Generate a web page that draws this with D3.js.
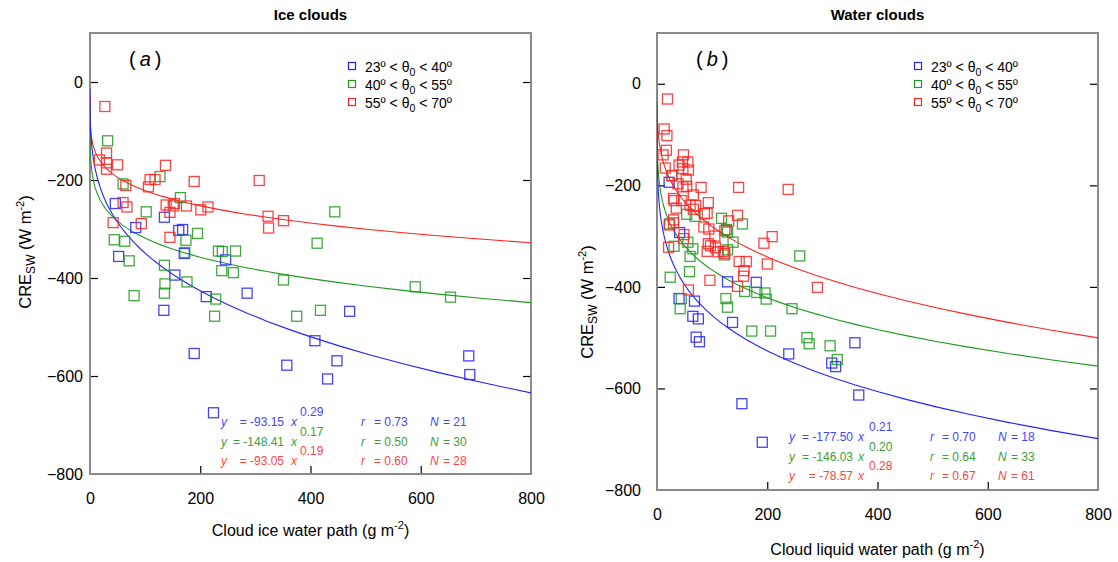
<!DOCTYPE html>
<html>
<head>
<meta charset="utf-8">
<script src="https://cdn.jsdelivr.net/npm/d3@7"></script>
<style>
  body { margin: 0; background: #fff; }
  svg text { font-family: Arial, "Liberation Sans", sans-serif; }
</style>
</head>
<body>
<svg id="mainsvg" width="1118" height="562"></svg>
<script>
// ---- data ----
const xTicks = [0, 200, 400, 600, 800];
const yTicks = [0, -200, -400, -600, -800];
const legendLabels = [['23º < θ', '0', ' < 40º'], ['40º < θ', '0', ' < 55º'], ['55º < θ', '0', ' < 70º']];
const seriesColors = ['#2222ff', '#1f9a1f', '#ff2222'];
const textColors = ['#4444ff', '#3aa03a', '#ff4444'];

// ice clouds: [IWP, CRE]
const iceBlue = [[46,-248],[83,-297],[135,-276],[161,-303],[168,-301],[52,-356],[246,-363],[154,-394],[171,-350],[134,-466],[211,-438],[285,-431],[471,-468],[408,-528],[189,-554],[357,-578],[448,-569],[431,-606],[687,-559],[689,-597],[224,-675]];
const iceGreen = [[32,-120],[127,-193],[60,-208],[164,-236],[102,-265],[444,-265],[195,-309],[174,-323],[44,-322],[63,-325],[412,-329],[233,-345],[240,-346],[264,-345],[172,-348],[71,-365],[135,-374],[239,-385],[260,-389],[351,-404],[590,-418],[654,-439],[136,-412],[176,-408],[80,-436],[135,-431],[228,-443],[226,-478],[375,-478],[418,-466]];
const iceRed = [[27,-50],[17,-159],[30,-145],[30,-165],[30,-178],[50,-169],[137,-170],[109,-199],[118,-199],[106,-214],[65,-211],[189,-203],[307,-201],[60,-246],[67,-255],[138,-251],[153,-248],[151,-253],[175,-253],[145,-266],[201,-261],[214,-255],[323,-274],[351,-283],[324,-298],[42,-287],[93,-289],[145,-317]];

// water clouds: [LWP, CRE]
const waterBlue = [[22,-194],[41,-293],[128,-390],[180,-391],[40,-423],[68,-428],[65,-458],[75,-463],[137,-470],[71,-499],[77,-508],[239,-532],[359,-510],[317,-550],[324,-557],[366,-613],[154,-630],[191,-706]];
const waterGreen = [[27,-181],[23,-276],[54,-257],[69,-261],[117,-265],[155,-276],[126,-287],[128,-292],[138,-312],[128,-327],[122,-337],[56,-312],[65,-325],[60,-340],[31,-320],[59,-370],[24,-381],[159,-409],[181,-411],[196,-412],[198,-424],[245,-443],[44,-423],[42,-443],[125,-423],[128,-440],[172,-487],[206,-487],[259,-339],[272,-500],[276,-512],[314,-516],[327,-543]];
const waterRed = [[19,-30],[13,-89],[18,-102],[17,-131],[11,-140],[48,-140],[46,-154],[56,-154],[47,-167],[57,-170],[15,-166],[27,-181],[53,-188],[38,-197],[54,-202],[47,-203],[80,-204],[148,-204],[238,-208],[66,-219],[30,-226],[31,-230],[45,-230],[93,-234],[60,-239],[35,-245],[66,-247],[86,-256],[91,-255],[146,-259],[30,-268],[22,-278],[30,-274],[85,-282],[94,-286],[123,-289],[49,-297],[48,-305],[209,-301],[194,-314],[21,-322],[93,-315],[97,-319],[106,-323],[91,-330],[111,-331],[120,-330],[123,-334],[149,-350],[162,-350],[200,-355],[158,-368],[157,-379],[96,-387],[146,-399],[57,-406],[291,-401],[40,-160],[70,-240],[105,-300],[130,-270]];

// fits y = a * x^b (printed values), r and N
const iceA = [-93.15, -148.41, -93.05];
const iceB = [0.29, 0.17, 0.19];
const iceR = [0.73, 0.50, 0.60];
const iceN = [21, 30, 28];
const waterA = [-177.50, -146.03, -78.57];
const waterB = [0.21, 0.20, 0.28];
const waterR = [0.70, 0.64, 0.67];
const waterN = [18, 33, 61];
// unrounded exponents, as the drawn curves show them
const iceBCurve = [0.287, 0.166, 0.1885];
const waterBCurve = [0.205, 0.200, 0.277];

const svg = d3.select('#mainsvg');

function drawPanel(p) {
  const g = svg.append('g');
  const x = d3.scaleLinear().domain([0, 800]).range([p.left, p.right]);
  const y = d3.scaleLinear().domain([-800, 100]).range([p.bottom, p.top]);

  const clipId = 'clip' + p.key;
  svg.append('clipPath').attr('id', clipId).append('rect')
    .attr('x', p.left).attr('y', p.top)
    .attr('width', p.right - p.left).attr('height', p.bottom - p.top);

  // title
  g.append('text').attr('x', (p.left + p.right) / 2).attr('y', 20)
    .attr('text-anchor', 'middle').style('font-size', '15px').style('font-weight', 'bold')
    .text(p.title);

  // axes with inward ticks
  const ax = g.append('g').attr('transform', `translate(0,${p.bottom})`)
    .call(d3.axisBottom(x).tickValues(xTicks).tickSize(-8).tickPadding(p.xPad).tickFormat(d3.format('d')));
  const ay = g.append('g').attr('transform', `translate(${p.left},0)`)
    .call(d3.axisLeft(y).tickValues(yTicks).tickSize(-8).tickPadding(p.yPad).tickFormat(d3.format('d')));
  const ayr = g.append('g').attr('transform', `translate(${p.right},0)`)
    .call(d3.axisRight(y).tickValues(yTicks).tickSize(-8).tickFormat(''));
  [ax, ay, ayr].forEach(a => {
    a.select('.domain').remove();
    a.selectAll('.tick line').attr('stroke', '#000').attr('stroke-width', 1.2);
    a.selectAll('text').style('font-size', '16px').attr('fill', '#000');
  });
  ax.selectAll('.tick').filter(d => d === 0 || d === 800).select('line').remove();
  ay.selectAll('.tick').filter(d => d === -800).select('line').remove();
  ayr.selectAll('.tick').filter(d => d === -800).select('line').remove();

  // frame
  g.append('rect').attr('x', p.left).attr('y', p.top)
    .attr('width', p.right - p.left).attr('height', p.bottom - p.top)
    .attr('fill', 'none').attr('stroke', '#8a8a8a').attr('stroke-width', 2);

  // axis titles
  const xt = g.append('text').attr('x', (p.left + p.right) / 2).attr('y', p.xTitleY)
    .attr('text-anchor', 'middle').style('font-size', '16px');
  xt.append('tspan').text(p.xTitle + ' (g m');
  xt.append('tspan').attr('dy', -7).style('font-size', '11px').text('-2');
  xt.append('tspan').attr('dy', 7).text(')');

  const yt = g.append('text').attr('transform', `translate(${p.yTitleX},${p.yTitleY}) rotate(-90)`)
    .attr('text-anchor', 'middle').style('font-size', '16.5px');
  yt.append('tspan').text('CRE');
  yt.append('tspan').attr('dy', 4).style('font-size', '12px').text('SW');
  yt.append('tspan').attr('dy', -4).text('  (W m');
  yt.append('tspan').attr('dy', -7).style('font-size', '11px').text('-2');
  yt.append('tspan').attr('dy', 7).text(')');

  // panel label
  const pl = g.append('text').attr('x', p.labelX).attr('y', 66).style('font-size', '20px');
  pl.append('tspan').text('(');
  pl.append('tspan').style('font-style', 'italic').text('\u2009' + p.label);
  pl.append('tspan').text('\u2009)');

  // fit curves
  const xs = d3.range(0, 120).map(i => Math.pow(10, -3 + i * (Math.log10(800) + 3) / 119));
  const line = d3.line().x(d => x(d[0])).y(d => y(d[1]));
  const cg = g.append('g').attr('clip-path', `url(#${clipId})`);
  [2, 1, 0].forEach(i => {
    cg.append('path')
      .attr('d', line(xs.map(v => [v, p.a[i] * Math.pow(v, p.bc[i])])))
      .attr('fill', 'none').attr('stroke', seriesColors[i]).attr('stroke-width', 1.1);
  });

  // points
  const s = 10;
  p.series.forEach((data, i) => {
    cg.selectAll(null).data(data).join('rect')
      .attr('x', d => x(d[0]) - s / 2).attr('y', d => y(d[1]) - s / 2)
      .attr('width', s).attr('height', s)
      .attr('fill', 'none').attr('stroke', seriesColors[i]).attr('stroke-width', 1.3)
      .attr('stroke-opacity', 0.85);
  });

  // legend
  legendLabels.forEach((lab, i) => {
    const ly = 66 + i * 18;
    g.append('rect').attr('x', p.legX - 3.5).attr('y', ly - 3.5).attr('width', 7).attr('height', 7)
      .attr('fill', 'none').attr('stroke', seriesColors[i]).attr('stroke-width', 1.2);
    const t = g.append('text').attr('x', p.legX + 13).attr('y', ly + 5.5).style('font-size', '14px');
    t.append('tspan').text(lab[0]);
    t.append('tspan').attr('dy', 4).style('font-size', '10.5px').text(lab[1]);
    t.append('tspan').attr('dy', -4).text(lab[2]);
  });

  // equations
  p.a.forEach((a, i) => {
    const by = p.eqY + i * 19.5;
    const c = textColors[i];
    const e = g.append('g').attr('fill', c).style('font-size', '12px');
    e.append('text').attr('x', p.eq[0]).attr('y', by).style('font-style', 'italic').text('y');
    e.append('text').attr('x', p.eq[1]).attr('y', by).attr('text-anchor', 'end').text('= ' + a.toFixed(2));
    e.append('text').attr('x', p.eq[2]).attr('y', by).style('font-style', 'italic').text('x');
    e.append('text').attr('x', p.eq[3]).attr('y', by - 10).text(p.b[i].toFixed(2));
    e.append('text').attr('x', p.eq[4]).attr('y', by).style('font-style', 'italic').text('r');
    e.append('text').attr('x', p.eq[5]).attr('y', by).text('= ' + p.r[i].toFixed(2));
    e.append('text').attr('x', p.eq[6]).attr('y', by).style('font-style', 'italic').text('N');
    e.append('text').attr('x', p.eq[7]).attr('y', by).text('= ' + p.n[i]);
  });
}

drawPanel({
  key: 'a', title: 'Ice clouds', label: 'a',
  left: 90, right: 531, top: 33, bottom: 474,
  xPad: 19, yPad: 7, xTitle: 'Cloud ice water path',
  xTitleY: 536, yTitleX: 31, yTitleY: 252,
  labelX: 129, legX: 352,
  series: [iceBlue, iceGreen, iceRed],
  a: iceA, b: iceB, bc: iceBCurve, r: iceR, n: iceN,
  eqY: 426, eq: [221, 284, 291, 300, 361, 374, 430, 443]
});

drawPanel({
  key: 'b', title: 'Water clouds', label: 'b',
  left: 657, right: 1098, top: 33, bottom: 490,
  xPad: 19, yPad: 16, xTitle: 'Cloud liquid water path',
  xTitleY: 555, yTitleX: 593, yTitleY: 302,
  labelX: 696, legX: 918,
  series: [waterBlue, waterGreen, waterRed],
  a: waterA, b: waterB, bc: waterBCurve, r: waterR, n: waterN,
  eqY: 441, eq: [789, 853, 858, 869, 930, 942, 998, 1011]
});
</script>
</body>
</html>
